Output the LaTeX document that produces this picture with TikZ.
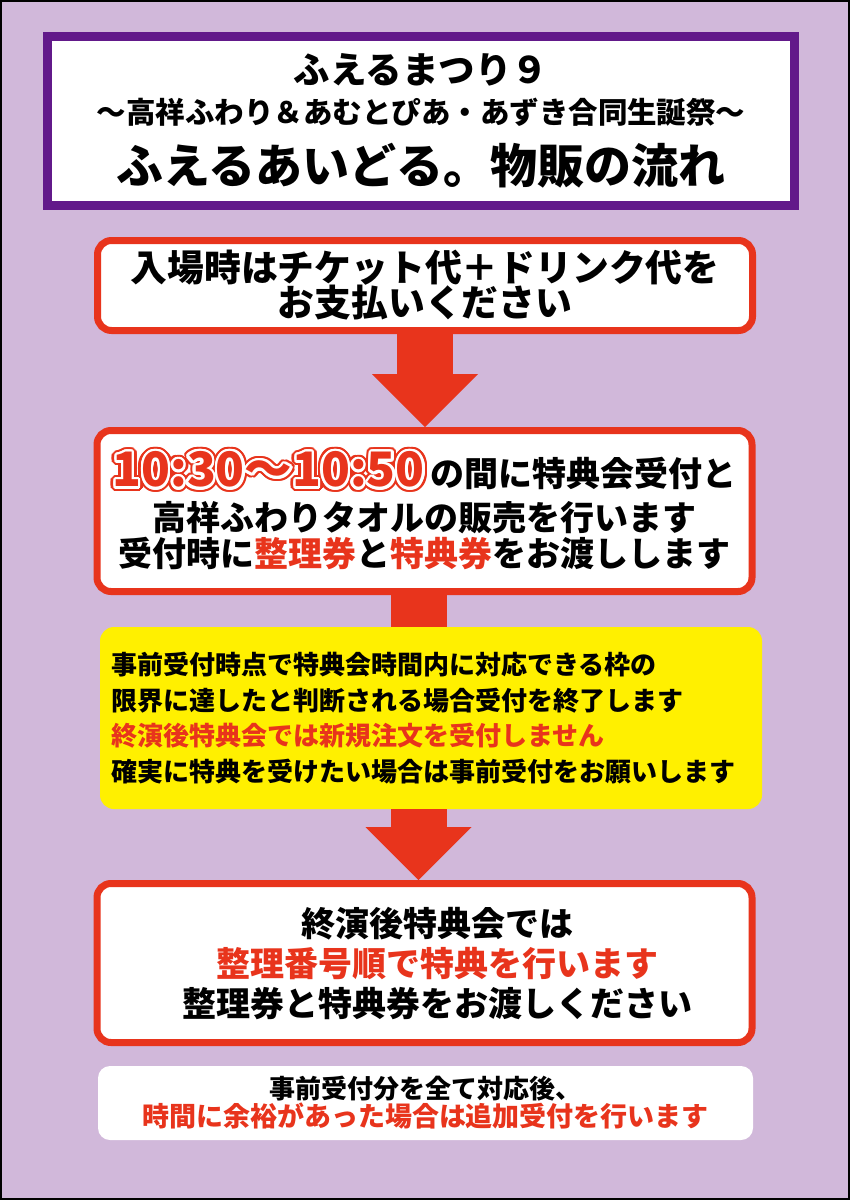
\documentclass[tikz,border=0pt]{standalone}
\usepackage{fontspec}
\newfontfamily\jp{Noto Sans CJK JP}
\usepackage{contour}
\contournumber{24}
\usetikzlibrary{arrows.meta,positioning,calc}
\definecolor{bglav}{HTML}{D1B8DA}
\definecolor{titlepurple}{HTML}{62198A}
\definecolor{flowred}{HTML}{E8341C}
\definecolor{noteyellow}{HTML}{FFF000}
\newcommand{\sz}[2]{\fontsize{#1}{#2}\selectfont\lineskiplimit=-100pt\relax}
\newcommand{\redtext}[1]{{\color{flowred}#1}}
\newcommand{\timetext}[1]{{\fontsize{47.5}{36}\selectfont\contourlength{4.8pt}\rlap{\color{flowred}\contour{flowred}{#1}}\contourlength{2.4pt}\color{flowred}\contour{white}{#1}}}

\begin{document}
\begin{tikzpicture}[
  x=1pt, y=-1pt,
  font=\jp\bfseries,
  titlebox/.style={rectangle, draw=titlepurple, line width=9pt, fill=white, minimum width=747pt, minimum height=169pt, align=center, inner sep=0pt},
  stepbox/.style={rectangle, draw=flowred, line width=7pt, fill=white, rounded corners=14pt, minimum width=655pt, align=center, inner sep=0pt},
  notebox/.style={rectangle, fill=noteyellow, rounded corners=14pt, minimum width=662pt, minimum height=182pt, text width=640pt, align=left, inner xsep=11pt, inner ysep=0pt},
  extrabox/.style={rectangle, fill=white, rounded corners=12pt, minimum width=655pt, minimum height=74pt, align=center, inner sep=0pt},
  flow/.style={draw=flowred, line width=56pt, -{Triangle[width=106pt, length=53pt, line width=0pt]}},
  link/.style={draw=flowred, line width=56pt},
]

\useasboundingbox (0,0) rectangle (850,1200);
\draw[black, line width=2pt, fill=bglav] (1,1) rectangle (849,1199);

\node[titlebox, font=\jp\bfseries\sz{36.5}{40}] (title) at (421,121)
  {{\sz{36.5}{40}ふえるまつり９}\\{\sz{29.5}{40}〜高祥ふわり＆あむとぴあ・あずき合同生誕祭〜}\\[20.5pt]{\sz{47}{40}ふえるあいどる。物販の流れ}};
\node[stepbox, minimum height=90pt, font=\jp\bfseries\sz{36.8}{35}] (b1) at (425,285.5)
  {入場時はチケット代＋ドリンク代を\\お支払いください};
\node[stepbox, minimum height=161pt, font=\jp\bfseries\sz{34}{36}] (b2) at (424.5,511)
  {\timetext{10:30〜10:50}\,の間に特典会受付と\\[8pt]高祥ふわりタオルの販売を行います\\受付時に\redtext{整理券}と\redtext{特典券}をお渡しします};
\node[notebox, font=\jp\bfseries\sz{26}{35.5}] (note) at (431,718)
  {事前受付時点で特典会時間内に対応できる枠の\\
   限界に達したと判断される場合受付を終了します\\
   \redtext{終演後特典会では新規注文を受付しません}\\
   確実に特典を受けたい場合は事前受付をお願いします};
\node[stepbox, minimum height=159pt, font=\jp\bfseries\sz{34}{40}] (b3) at (424.5,963)
  {\hspace*{26pt}終演後特典会では\\\hspace*{26pt}\redtext{整理番号順で特典を行います}\\\hspace*{26pt}整理券と特典券をお渡しください};
\node[extrabox, font=\jp\bfseries\sz{27}{28}] (extra) at (425.5,1103)
  {{\sz{26}{28}事前受付分を全て対応後、}\\\redtext{時間に余裕があった場合は追加受付を行います}};

\draw[flow] (b1.south) -- (b1.south |- b2.north);
\draw[link] ([xshift=-6pt]b2.south) -- ([xshift=-6pt]b2.south |- note.north);
\draw[flow] ([xshift=-6pt]b2.south |- note.south) -- ([xshift=-6pt]b2.south |- b3.north);

\end{tikzpicture}
\end{document}
